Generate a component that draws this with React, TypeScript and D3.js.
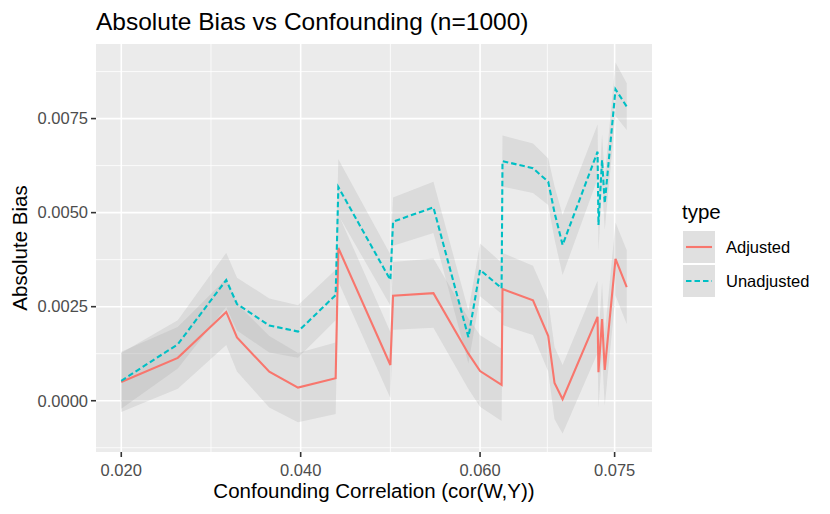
import * as d3 from "d3";

const W = 830;
const H = 514;

// confounding correlation values (shared by both series)
const corr = [
  0.02, 0.0263, 0.0317, 0.0329, 0.0365, 0.0397, 0.0439, 0.0442, 0.05, 0.0503,
  0.0548, 0.0587, 0.06, 0.0624, 0.0625, 0.0659, 0.0676, 0.0683, 0.0692,
  0.0731, 0.0732, 0.0736, 0.0739, 0.0751, 0.07635,
];

const adjustedBias = [
  0.0005, 0.00114, 0.00236, 0.00168, 0.00077, 0.00035, 0.0006, 0.00406,
  0.00095, 0.00279, 0.00286, 0.00125, 0.00079, 0.00042, 0.00297, 0.00267,
  0.00172, 0.00047, 0.00004, 0.00223, 0.00076, 0.00217, 0.00082, 0.00377,
  0.00302,
];
const adjustedSe = [
  0.0008, 0.00082, 0.00088, 0.0009, 0.00095, 0.00092, 0.00095, 0.0009,
  0.00088, 0.0009, 0.00092, 0.00094, 0.00095, 0.00096, 0.00096, 0.00092,
  0.00094, 0.00096, 0.00091, 0.00096, 0.00094, 0.00096, 0.00095, 0.00097,
  0.00098,
];

const unadjustedBias = [
  0.00053, 0.0015, 0.00321, 0.00257, 0.002, 0.00184, 0.00281, 0.00568,
  0.00321, 0.00476, 0.00514, 0.00169, 0.00348, 0.00299, 0.00637, 0.00618,
  0.00582, 0.005, 0.00414, 0.00662, 0.00467, 0.0064, 0.00525, 0.00828,
  0.00782,
];
const unadjustedSe = [
  0.00074, 0.00064, 0.00072, 0.0007, 0.00072, 0.0007, 0.00067, 0.00074,
  0.00068, 0.00064, 0.00068, 0.0007, 0.0007, 0.00068, 0.00068, 0.00066,
  0.00062, 0.0007, 0.0008, 0.00072, 0.00068, 0.00068, 0.0007, 0.00071,
  0.00062,
];

const types = ["Adjusted", "Unadjusted"];
const colors = ["#F8766D", "#00BFC4"];
const dashes = ["none", "5.5 3"];

const xBreaks = [0.02, 0.04, 0.06, 0.075];
const xMinor = [0.03, 0.05, 0.0675];
const yBreaks = [0, 0.0025, 0.005, 0.0075];
const yMinor = [-0.00125, 0.00125, 0.00375, 0.00625, 0.00875];

type Pt = { x: number; y: number; lo: number; hi: number };

const series: Pt[][] = [
  corr.map((x, i) => ({
    x,
    y: adjustedBias[i],
    lo: adjustedBias[i] - adjustedSe[i],
    hi: adjustedBias[i] + adjustedSe[i],
  })),
  corr.map((x, i) => ({
    x,
    y: unadjustedBias[i],
    lo: unadjustedBias[i] - unadjustedSe[i],
    hi: unadjustedBias[i] + unadjustedSe[i],
  })),
];

// ggplot-style 5% expansion
function expand([a, b]: [number, number]): [number, number] {
  const d = (b - a) * 0.05;
  return [a - d, b + d];
}

export default function App() {
  const panel = { left: 96, right: 652, top: 44, bottom: 452 };
  const font = "'Liberation Sans', Arial, Helvetica, sans-serif";
  const tickLen = 5;

  const all = series.flat();
  const x = d3
    .scaleLinear()
    .domain(expand(d3.extent(corr) as [number, number]))
    .range([panel.left, panel.right]);
  const y = d3
    .scaleLinear()
    .domain(
      expand([d3.min(all, (d) => d.lo)!, d3.max(all, (d) => d.hi)!]),
    )
    .range([panel.bottom, panel.top]);

  const area = d3
    .area<Pt>()
    .x((d) => x(d.x))
    .y0((d) => y(d.lo))
    .y1((d) => y(d.hi));
  const line = d3
    .line<Pt>()
    .x((d) => x(d.x))
    .y((d) => y(d.y));

  const legendX = 683;
  const keySize = 32;

  return (
    <div style={{ position: "absolute", left: 0, top: 0 }}>
      <svg width={W} height={H} fontFamily={font}>
        <rect width={W} height={H} fill="#fff" />
        {/* title */}
        <text x={panel.left} y={30} fontSize={24.5} fill="#000">
          Absolute Bias vs Confounding (n=1000)
        </text>

        {/* panel */}
        <rect
          x={panel.left}
          y={panel.top}
          width={panel.right - panel.left}
          height={panel.bottom - panel.top}
          fill="#EBEBEB"
        />
        {yMinor.map((v) => (
          <line
            key={"ym" + v}
            x1={panel.left}
            x2={panel.right}
            y1={y(v)}
            y2={y(v)}
            stroke="#fff"
            strokeWidth={0.8}
          />
        ))}
        {xMinor.map((v) => (
          <line
            key={"xm" + v}
            x1={x(v)}
            x2={x(v)}
            y1={panel.top}
            y2={panel.bottom}
            stroke="#fff"
            strokeWidth={0.8}
          />
        ))}
        {yBreaks.map((v) => (
          <line
            key={"yM" + v}
            x1={panel.left}
            x2={panel.right}
            y1={y(v)}
            y2={y(v)}
            stroke="#fff"
            strokeWidth={1.6}
          />
        ))}
        {xBreaks.map((v) => (
          <line
            key={"xM" + v}
            x1={x(v)}
            x2={x(v)}
            y1={panel.top}
            y2={panel.bottom}
            stroke="#fff"
            strokeWidth={1.6}
          />
        ))}

        {/* ribbons */}
        {series.map((s, i) => (
          <path key={"r" + i} d={area(s)!} fill="#999999" fillOpacity={0.2} />
        ))}
        {/* lines */}
        {series.map((s, i) => (
          <path
            key={"l" + i}
            d={line(s)!}
            fill="none"
            stroke={colors[i]}
            strokeWidth={2.1}
            strokeDasharray={dashes[i]}
          />
        ))}

        {/* y axis */}
        {yBreaks.map((v) => (
          <g key={"yt" + v}>
            <line
              x1={panel.left - tickLen}
              x2={panel.left}
              y1={y(v)}
              y2={y(v)}
              stroke="#333"
              strokeWidth={1.6}
            />
            <text
              x={panel.left - tickLen - 3}
              y={y(v)}
              dy="0.35em"
              textAnchor="end"
              fontSize={16.5}
              fill="#4D4D4D"
            >
              {d3.format(".4f")(v)}
            </text>
          </g>
        ))}
        {/* x axis */}
        {xBreaks.map((v) => (
          <g key={"xt" + v}>
            <line
              x1={x(v)}
              x2={x(v)}
              y1={panel.bottom}
              y2={panel.bottom + tickLen}
              stroke="#333"
              strokeWidth={1.6}
            />
            <text
              x={x(v)}
              y={panel.bottom + 24}
              textAnchor="middle"
              fontSize={16.5}
              fill="#4D4D4D"
            >
              {d3.format(".3f")(v)}
            </text>
          </g>
        ))}
        <text
          x={(panel.left + panel.right) / 2}
          y={498}
          textAnchor="middle"
          fontSize={20.5}
          fill="#000"
        >
          Confounding Correlation (cor(W,Y))
        </text>
        <text
          transform={`translate(27,${(panel.top + panel.bottom) / 2}) rotate(-90)`}
          textAnchor="middle"
          fontSize={20.5}
          fill="#000"
        >
          Absolute Bias
        </text>

        {/* legend */}
        <text x={legendX - 1} y={219} fontSize={20.5} fill="#000">
          type
        </text>
        {types.map((t, i) => {
          const top = 231 + i * (keySize + 2);
          return (
            <g key={t}>
              <rect
                x={legendX}
                y={top}
                width={keySize}
                height={keySize}
                fill="#F2F2F2"
              />
              <rect
                x={legendX}
                y={top}
                width={keySize}
                height={keySize}
                fill="#999999"
                fillOpacity={0.2}
              />
              <line
                x1={legendX + 3}
                x2={legendX + keySize - 3}
                y1={top + keySize / 2}
                y2={top + keySize / 2}
                stroke={colors[i]}
                strokeWidth={2.1}
                strokeDasharray={dashes[i]}
              />
              <text
                x={legendX + keySize + 11}
                y={top + keySize / 2}
                dy="0.35em"
                fontSize={16.5}
                fill="#000"
              >
                {t}
              </text>
            </g>
          );
        })}
      </svg>
    </div>
  );
}
